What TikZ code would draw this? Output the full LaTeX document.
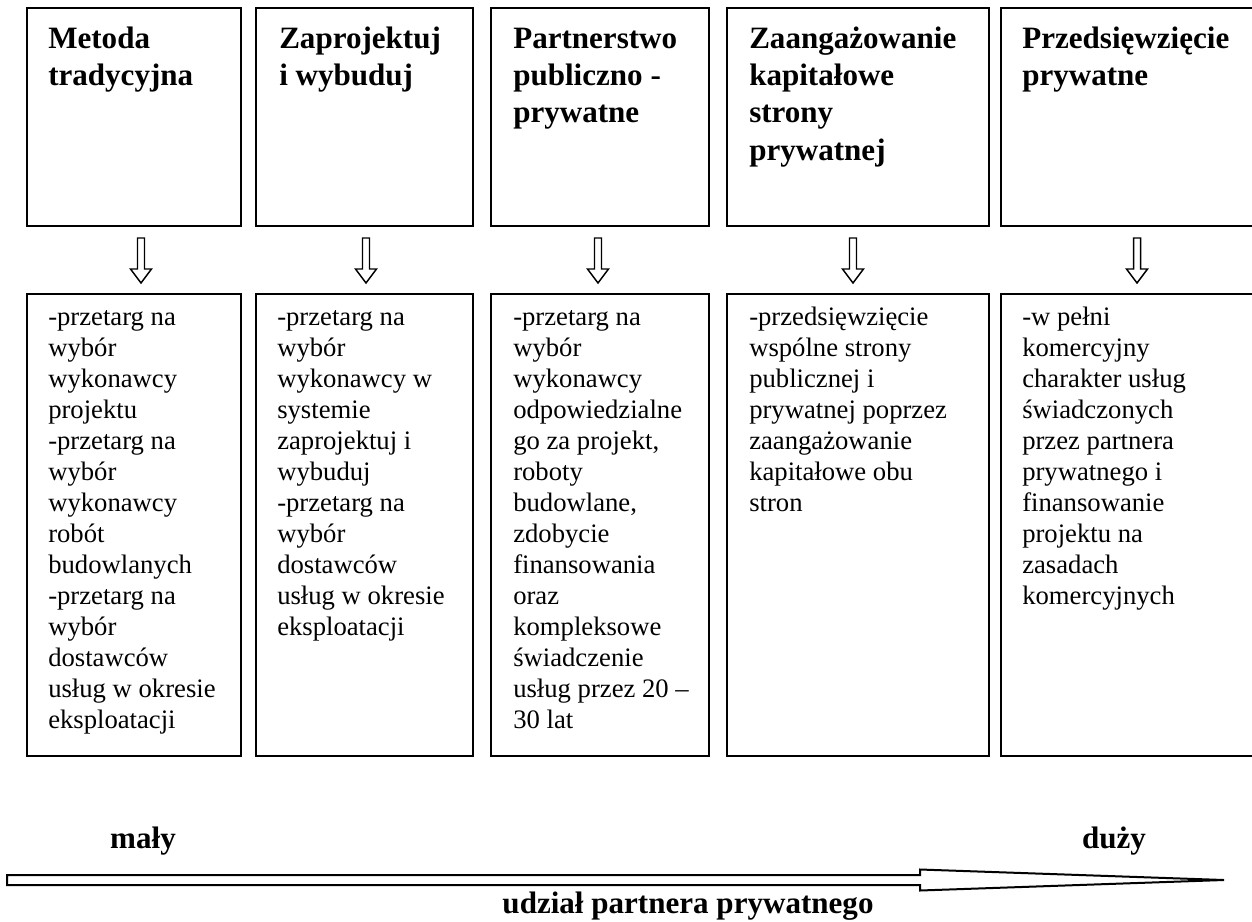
\documentclass[tikz,border=0pt]{standalone}
\usepackage{fontspec}
\setmainfont{Liberation Serif}
\usetikzlibrary{fit}
\newcommand{\ttl}[1]{\parbox[t]{300pt}{\fontsize{23.3pt}{28pt}\selectfont\bfseries #1}}
\newcommand{\bdy}[1]{\parbox[t]{300pt}{\fontsize{20pt}{23.25pt}\selectfont #1}}
\tikzset{
  box/.style={draw, line width=1.5pt, inner sep=0pt},
  lbl/.style={inner sep=0pt, anchor=base west},
  bold/.style={inner sep=0pt, anchor=base, font=\fontsize{23.3pt}{28pt}\selectfont\bfseries},
  harrow/.pic={\draw[line width=1.1pt, line join=miter] (-3.5,0) -- (3.5,0) -- (3.5,31) -- (10.5,31) -- (0,45) -- (-10.5,31) -- (-3.5,31) -- cycle;}
}
\begin{document}
\begin{tikzpicture}[x=0.75pt, y=-0.75pt]
\useasboundingbox (0,0) rectangle (1252,921);
\clip (0,0) rectangle (1252,921);
% upper boxes
\node[box, fit={(27,8)(241,226)}] (u1) {};
\node[box, fit={(256,8)(473,226)}] (u2) {};
\node[box, fit={(491,8)(709,226)}] (u3) {};
\node[box, fit={(727,8)(989,226)}] (u4) {};
\node[box, fit={(1001,8)(1280,226)}] (u5) {};
% lower boxes
\node[box, fit={(27,294)(241,756)}] (l1) {};
\node[box, fit={(256,294)(473,756)}] (l2) {};
\node[box, fit={(491,294)(709,756)}] (l3) {};
\node[box, fit={(727,294)(989,756)}] (l4) {};
\node[box, fit={(1001,294)(1280,756)}] (l5) {};
% titles
\node[lbl] (t1) at (48,48) {\ttl{Metoda\\tradycyjna}};
\node[lbl] (t2) at (279,48) {\ttl{Zaprojektuj\\i wybuduj}};
\node[lbl] (t3) at (513,48) {\ttl{Partnerstwo\\publiczno -\\prywatne}};
\node[lbl] (t4) at (749,48) {\ttl{Zaangażowanie\\kapitałowe\\strony\\prywatnej}};
\node[lbl] (t5) at (1022,48) {\ttl{Przedsięwzięcie\\prywatne}};
% arrows
\pic at (141,238) {harrow};
\pic at (366,238) {harrow};
\pic at (598,238) {harrow};
\pic at (853,238) {harrow};
\pic at (1137,238) {harrow};
% bodies
\node[lbl] (b1) at (48,325) {\bdy{-przetarg na\\wybór\\wykonawcy\\projektu\\-przetarg na\\wybór\\wykonawcy\\robót\\budowlanych\\-przetarg na\\wybór\\dostawców\\usług w okresie\\eksploatacji}};
\node[lbl] (b2) at (277,325) {\bdy{-przetarg na\\wybór\\wykonawcy w\\systemie\\zaprojektuj i\\wybuduj\\-przetarg na\\wybór\\dostawców\\usług w okresie\\eksploatacji}};
\node[lbl] (b3) at (513,325) {\bdy{-przetarg na\\wybór\\wykonawcy\\odpowiedzialne\\go za projekt,\\roboty\\budowlane,\\zdobycie\\finansowania\\oraz\\kompleksowe\\świadczenie\\usług przez 20 –\\30 lat}};
\node[lbl] (b4) at (749,325) {\bdy{-przedsięwzięcie\\wspólne strony\\publicznej i\\prywatnej poprzez\\zaangażowanie\\kapitałowe obu\\stron}};
\node[lbl] (b5) at (1022,325) {\bdy{-w pełni\\komercyjny\\charakter usług\\świadczonych\\przez partnera\\prywatnego i\\finansowanie\\projektu na\\zasadach\\komercyjnych}};
% bottom
\node[bold] (maly) at (143,848) {mały};
\node[bold] (duzy) at (1114,848) {duży};
\draw[line width=1.5pt, line join=miter] (7,875) -- (920,875) -- (920,869.5) -- (1224,880) -- (920,890.5) -- (920,885) -- (7,885) -- cycle;
\node[bold] (udzial) at (688,913) {udział partnera prywatnego};
\end{tikzpicture}
\end{document}
